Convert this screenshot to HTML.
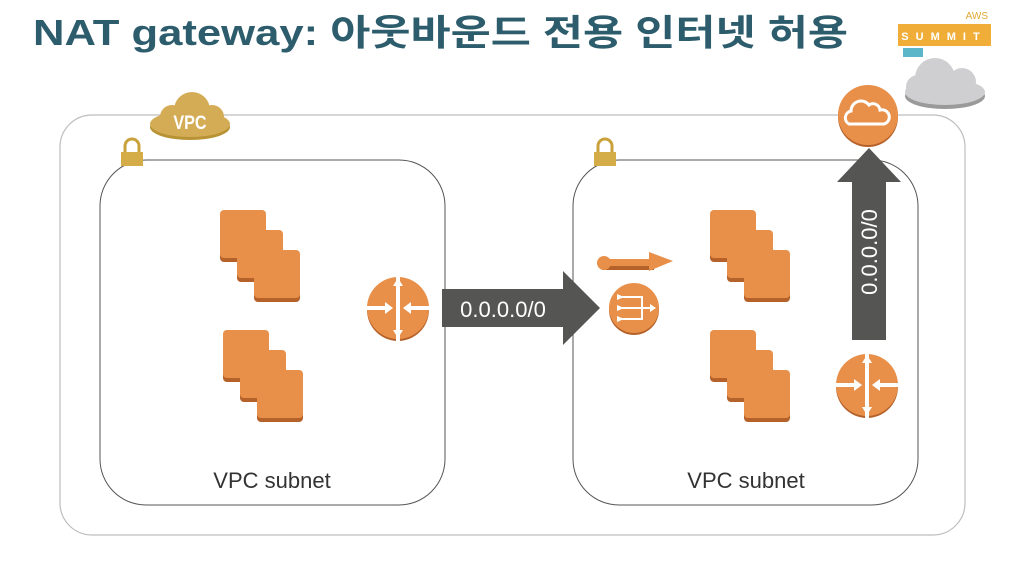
<!DOCTYPE html>
<html><head><meta charset="utf-8"><style>
html,body{margin:0;padding:0;background:#fff;}
svg{display:block;}
</style></head><body>
<svg width="1018" height="566" viewBox="0 0 1018 566" xmlns="http://www.w3.org/2000/svg">
<defs>
<g id="stack">
  <rect x="0" y="2" width="46" height="50" rx="4" fill="#b5622a"/>
  <rect x="0" y="0" width="46" height="48" rx="4" fill="#e8904a"/>
  <rect x="17" y="22" width="46" height="50" rx="4" fill="#b5622a"/>
  <rect x="17" y="20" width="46" height="48" rx="4" fill="#e8904a"/>
  <rect x="34" y="42" width="46" height="50" rx="4" fill="#b5622a"/>
  <rect x="34" y="40" width="46" height="48" rx="4" fill="#e8904a"/>
</g>
<g id="router">
  <circle cx="0" cy="2" r="31" fill="#b5622a"/>
  <circle cx="0" cy="0" r="31" fill="#e8904a"/>
  <rect x="-2" y="-34" width="4" height="68" fill="#fff"/>
  <rect x="-33" y="-2" width="20" height="4" fill="#fff"/>
  <rect x="13" y="-2" width="20" height="4" fill="#fff"/>
  <polygon points="-13,-6 -5,0 -13,6" fill="#fff"/>
  <polygon points="13,-6 5,0 13,6" fill="#fff"/>
  <polygon points="-5,-22 0,-30 5,-22" fill="#fff"/>
  <polygon points="-5,22 0,30 5,22" fill="#fff"/>
</g>
<g id="lock">
  <path d="M-7,0 v-6 a7,7 0 0 1 14,0 v6" fill="none" stroke="#c9a23c" stroke-width="3"/>
  <rect x="-11" y="0" width="22" height="14" fill="#d4ac48"/>
</g>
</defs>

<text x="33" y="45" font-family="Liberation Sans, 'Noto Sans CJK KR', sans-serif" font-size="36" font-weight="bold" fill="#2d5d6c" textLength="815" lengthAdjust="spacingAndGlyphs">NAT gateway: 아웃바운드 전용 인터넷 허용</text>

<text x="988" y="19" font-family="Liberation Sans, sans-serif" font-size="10" fill="#e0a830" text-anchor="end">AWS</text>
<rect x="898" y="24" width="93" height="22" fill="#f0ae38"/>
<text x="944" y="40" font-family="Liberation Sans, sans-serif" font-size="11" font-weight="bold" fill="#fff" text-anchor="middle" letter-spacing="7">SUMMIT</text>
<rect x="903" y="48" width="20" height="9" fill="#5bb6c9"/>
<g fill="#9a9a9a"><ellipse cx="945" cy="96" rx="40" ry="13"/></g>
<g fill="#cfcfd1">
  <ellipse cx="945" cy="92" rx="40" ry="13"/>
  <circle cx="935" cy="78" r="20"/><circle cx="962" cy="82" r="14"/><circle cx="918" cy="87" r="12"/>
</g>

<rect x="60" y="115" width="905" height="420" rx="32" fill="none" stroke="#bdbdbd" stroke-width="1.2"/>
<g>
  <ellipse cx="190" cy="127" rx="40" ry="13" fill="#b89335"/>
  <ellipse cx="190" cy="124" rx="40" ry="13" fill="#d4ac55"/>
  <circle cx="192" cy="110" r="18" fill="#d4ac55"/><circle cx="172" cy="117" r="12" fill="#d4ac55"/><circle cx="212" cy="117" r="12" fill="#d4ac55"/>
  <text x="190" y="129" font-family="Liberation Sans, sans-serif" font-size="19" font-weight="bold" fill="#fff" text-anchor="middle" transform="translate(190 0) scale(0.85 1) translate(-190 0)">VPC</text>
</g>

<rect x="100" y="160" width="345" height="345" rx="46" fill="none" stroke="#555" stroke-width="1"/>
<rect x="573" y="160" width="345" height="345" rx="46" fill="none" stroke="#555" stroke-width="1"/>
<use href="#lock" x="132" y="152"/>
<use href="#lock" x="605" y="152"/>

<use href="#stack" x="220" y="210"/>
<use href="#stack" x="223" y="330"/>
<use href="#stack" x="710" y="210"/>
<use href="#stack" x="710" y="330"/>

<use href="#router" x="398" y="308"/>
<use href="#router" x="867" y="385"/>

<polygon points="442,289 563,289 563,271 600,308 563,345 563,327 442,327" fill="#555553"/>
<text x="503" y="317" font-family="Liberation Sans, sans-serif" font-size="22" fill="#fff" text-anchor="middle">0.0.0.0/0</text>

<circle cx="634" cy="310" r="25" fill="#b5622a"/>
<circle cx="634" cy="308" r="25" fill="#e8904a"/>
<g stroke="#fff" stroke-width="2" fill="none">
  <path d="M620,297 H642 V319 H620 M620,308 H652"/>
</g>
<polygon points="617,294 624,297 617,300" fill="#fff"/>
<polygon points="617,305 624,308 617,311" fill="#fff"/>
<polygon points="617,316 624,319 617,322" fill="#fff"/>
<polygon points="650,304 656,308 650,312" fill="#fff"/>
<g>
  <rect x="602" y="263" width="52" height="7" fill="#b5622a"/>
  <rect x="602" y="259" width="52" height="7" fill="#e8904a"/>
  <circle cx="604" cy="263" r="7" fill="#e8904a"/>
  <polygon points="649,252 673,261 649,271" fill="#e8904a"/>
</g>

<polygon points="852,340 852,182 837,182 869,148 901,182 886,182 886,340" fill="#555553"/>
<text transform="translate(877 252) rotate(-90)" font-family="Liberation Sans, sans-serif" font-size="22" fill="#fff" text-anchor="middle">0.0.0.0/0</text>

<circle cx="868" cy="117" r="30" fill="#b5622a"/>
<circle cx="868" cy="115" r="30" fill="#e8904a"/>
<path d="M849,124 a7,7 0 0 1 2,-13 a10,10 0 0 1 18,-6 a7,7 0 0 1 11,5 a7,7 0 0 1 4,14 z" fill="none" stroke="#fff" stroke-width="3"/>

<text x="272" y="488" font-family="Liberation Sans, sans-serif" font-size="22" fill="#333" text-anchor="middle">VPC subnet</text>
<text x="746" y="488" font-family="Liberation Sans, sans-serif" font-size="22" fill="#333" text-anchor="middle">VPC subnet</text>
</svg>
</body></html>
